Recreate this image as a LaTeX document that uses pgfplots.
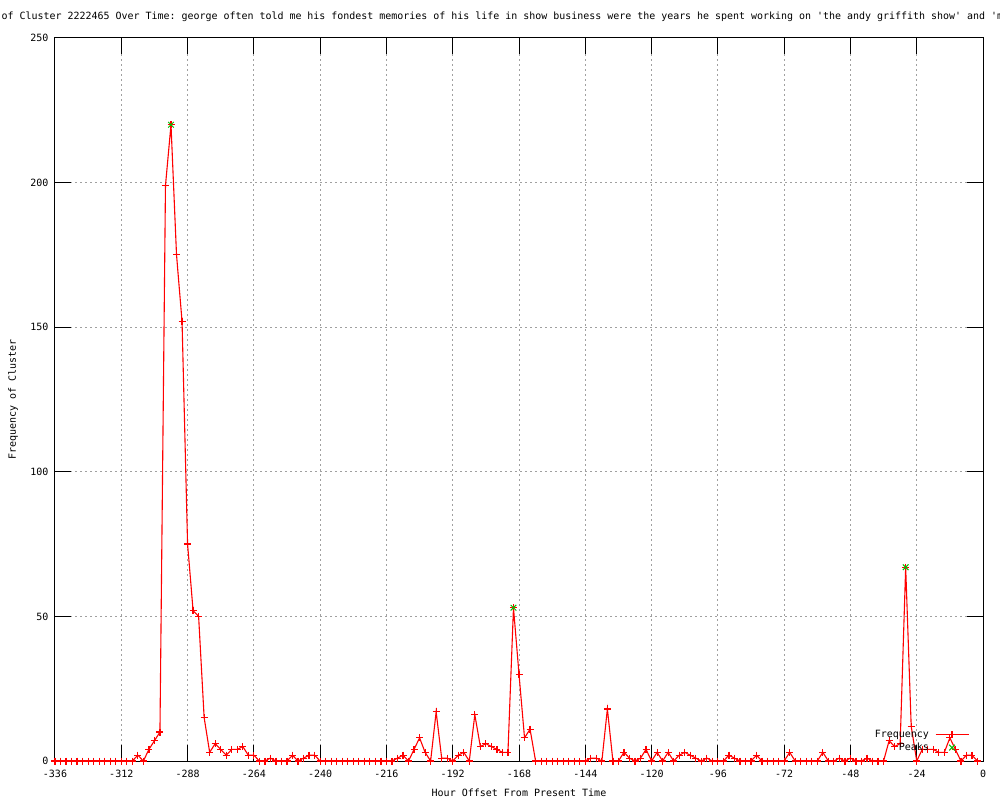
\documentclass[border=0pt]{standalone}
\usepackage{fontspec}
\setmonofont{DejaVu Sans Mono}
\renewcommand*\familydefault{\ttdefault}
\usepackage{pgfplots}
\usepackage{pgfplotstable}
\pgfplotsset{compat=1.18}

\definecolor{gpred}{RGB}{255,0,0}
\definecolor{gpgreen}{RGB}{0,192,0}
\definecolor{gpgrid}{RGB}{160,160,160}

\pgfplotsset{
  freqimg/.style={legend image code/.code={\draw[mark repeat=2,mark phase=2,##1] plot coordinates {(0pt,0pt) (16.5pt,0pt) (33pt,0pt)};}},
  peakimg/.style={legend image code/.code={\path (0pt,0pt) (33pt,0pt); \draw[mark repeat=2,mark phase=2,##1] plot coordinates {(0pt,0pt) (16.5pt,0pt) (33pt,0pt)};}},
}

% hour offset vs frequency, every 2 hours
\pgfplotstableread{
h f
-336 0
-334 0
-332 0
-330 0
-328 0
-326 0
-324 0
-322 0
-320 0
-318 0
-316 0
-314 0
-312 0
-310 0
-308 0
-306 2
-304 0
-302 4
-300 7
-298 10
-296 199
-294 220
-292 175
-290 152
-288 75
-286 52
-284 50
-282 15
-280 3
-278 6
-276 4
-274 2
-272 4
-270 4
-268 5
-266 2
-264 2
-262 0
-260 0
-258 1
-256 0
-254 0
-252 0
-250 2
-248 0
-246 1
-244 2
-242 2
-240 0
-238 0
-236 0
-234 0
-232 0
-230 0
-228 0
-226 0
-224 0
-222 0
-220 0
-218 0
-216 0
-214 0
-212 1
-210 2
-208 0
-206 4
-204 8
-202 3
-200 0
-198 17
-196 1
-194 1
-192 0
-190 2
-188 3
-186 0
-184 16
-182 5
-180 6
-178 5
-176 4
-174 3
-172 3
-170 53
-168 30
-166 8
-164 11
-162 0
-160 0
-158 0
-156 0
-154 0
-152 0
-150 0
-148 0
-146 0
-144 0
-142 1
-140 1
-138 0
-136 18
-134 0
-132 0
-130 3
-128 1
-126 0
-124 1
-122 4
-120 0
-118 3
-116 0
-114 3
-112 0
-110 2
-108 3
-106 2
-104 1
-102 0
-100 1
-98 0
-96 0
-94 0
-92 2
-90 1
-88 0
-86 0
-84 0
-82 2
-80 0
-78 0
-76 0
-74 0
-72 0
-70 3
-68 0
-66 0
-64 0
-62 0
-60 0
-58 3
-56 0
-54 0
-52 1
-50 0
-48 1
-46 0
-44 0
-42 1
-40 0
-38 0
-36 0
-34 7
-32 5
-30 6
-28 67
-26 12
-24 0
-22 4
-20 4
-18 4
-16 3
-14 3
-12 8
-10 4
-8 0
-6 2
-4 2
-2 0
}\freqdata

\pgfplotstableread{
h f
-294 220
-170 53
-28 67
}\peakdata

\begin{document}
\begin{tikzpicture}
\begin{axis}[
  at={(55pt,39pt)}, anchor=south west,
  scale only axis, width=928pt, height=723pt,
  xmin=-336, xmax=0, ymin=0, ymax=250,
  xtick={-336,-312,-288,-264,-240,-216,-192,-168,-144,-120,-96,-72,-48,-24,0},
  xticklabels={-336,-312,-288,-264,-240,-216,-192,-168,-144,-120,-96,-72,-48,-24,0},
  ytick={0,50,100,150,200,250},
  yticklabels={0,50,100,150,200,250},
  tick align=inside,
  major tick length=16pt,
  tick style={black, line width=1pt},
  axis line style={black, line width=1pt},
  grid=major,
  major grid style={gpgrid, line width=1pt, dash pattern=on 2pt off 3pt},
  font=\fontsize{10}{12}\selectfont,
  xticklabel style={yshift=-6pt},
  yticklabel style={xshift=-3pt},
  xlabel={Hour Offset From Present Time},
  ylabel={Frequency of Cluster},
  every axis x label/.style={at={(axis description cs:0.5,-0.0443)}, anchor=center},
  every axis y label/.style={at={(axis description cs:-0.0452,0.5)}, rotate=90, anchor=center},
  legend plot pos=right,
  legend cell align=right,
  legend style={draw=none, fill=none, at={(0.9852,0.043)}, anchor=north east,
    inner sep=0pt, row sep=4pt, column sep=6pt,
    nodes={inner sep=0pt, text height=7pt, text depth=2pt},
    font=\fontsize{10}{12}\selectfont},
]
\addplot[gpred, line width=1.1pt, mark=+, mark size=3.5pt,
  mark options={line width=1.2pt}, freqimg]
  table[x=h, y=f] {\freqdata};
\addlegendentry{Frequency}
\addplot[gpgreen, only marks, mark=x, mark size=4pt, line width=1pt, peakimg]
  table[x=h, y=f] {\peakdata};
\addlegendentry{Peaks}
\end{axis}
\node[anchor=west, inner sep=0pt, font=\fontsize{9.96}{12}\selectfont] at (1.5pt,783pt)
  {of Cluster 2222465 Over Time: george often told me his fondest memories of his life in show business were the years he spent working on 'the andy griffith show' and 'm};
\pgfresetboundingbox
\useasboundingbox (0pt,0pt) rectangle (1000pt,800pt);
\end{tikzpicture}
\end{document}
